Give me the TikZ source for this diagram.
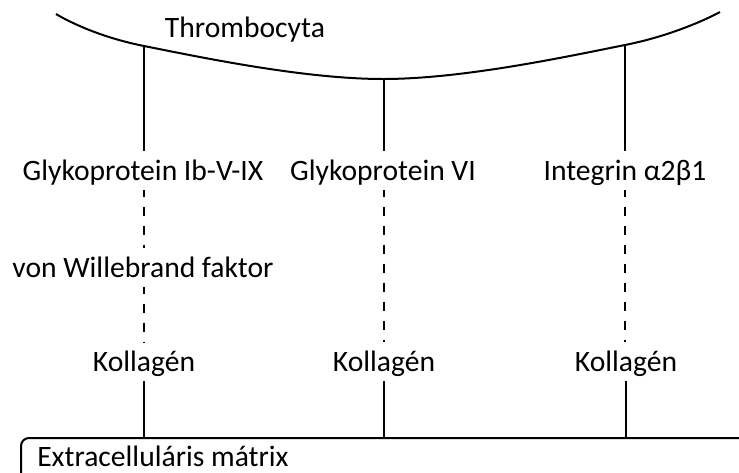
\documentclass[tikz,border=0pt]{standalone}
\usepackage{fontspec}
\setmainfont{Carlito}
\usetikzlibrary{positioning,calc}

\tikzset{
  lbl/.style={inner xsep=0pt, inner ysep=7.5pt, text height=14pt, text depth=0pt,
              font=\fontsize{22.2}{26}\selectfont},
  link/.style={line width=1.5pt},
  bond/.style={line width=1.6pt, dash pattern=on 6.75pt off 7.5pt, dash phase=2pt}
}

\begin{document}
\begin{tikzpicture}[x=0.75pt,y=-0.75pt]
    \useasboundingbox (0,0) rectangle (739,472);
    \clip (0,0) rectangle (739,472);

    % Platelet membrane
    \coordinate (t1) at (144,46);
    \coordinate (t2) at (384,79);
    \coordinate (t3) at (625,45);
    \draw[link] plot[smooth, tension=0.6] coordinates {(56,14) (t1) (t2) (t3) (720,12)};
    \node[lbl, anchor=base] (thr) at (245,37) {Thrombocyta};

    % Receptors
    \node[lbl, anchor=base] (gp1) at (143,180) {Glykoprotein Ib-V-IX};
    \node[lbl, anchor=base] (gp6) at (383,180) {Glykoprotein VI};
    \node[lbl, anchor=base] (itg) at (625,180) {Integrin α2β1};

    % Ligands
    \node[lbl, anchor=base] (vwf) at (143,277) {von Willebrand faktor};
    \node[lbl, anchor=base] (kol1) at (144,371) {Kollagén};
    \node[lbl, anchor=base] (kol2) at (384,371) {Kollagén};
    \node[lbl, anchor=base] (kol3) at (626,371) {Kollagén};

    % Extracellular matrix
    \node[draw, link, rounded corners=6pt, anchor=north west, inner sep=0pt,
          minimum width=600pt, minimum height=45pt] (mtx) at (20,437) {};
    \node[lbl, inner ysep=0pt, anchor=base west] (mtxlbl) at (37,466) {Extracelluláris mátrix};

    % Connections
    \draw[link] (t1) -- (gp1.north -| t1);
    \draw[link] (t2) -- (gp6.north -| t2);
    \draw[link] (t3) -- (itg.north -| t3);
    \draw[bond] (gp1.south -| t1) -- (vwf.north -| t1);
    \draw[bond] (vwf.south -| t1) -- (kol1.north -| t1);
    \draw[bond] (gp6.south -| t2) -- (kol2.north -| t2);
    \draw[bond] (itg.south -| t3) -- (kol3.north -| t3);
    \draw[link] (kol1.south) -- (kol1.south |- mtx.north);
    \draw[link] (kol2.south) -- (kol2.south |- mtx.north);
    \draw[link] (kol3.south) -- (kol3.south |- mtx.north);
\end{tikzpicture}
\end{document}
